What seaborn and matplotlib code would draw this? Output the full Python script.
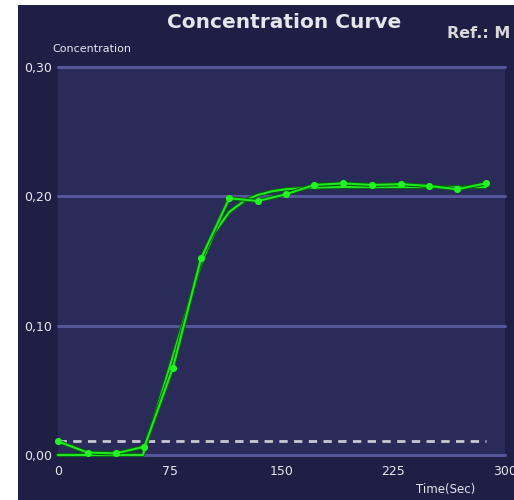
import matplotlib
matplotlib.use("Agg")
import matplotlib.pyplot as plt
import matplotlib.patheffects as pe
from matplotlib.patches import Rectangle
import seaborn as sns
import pandas as pd

# ---- data ----
meas_time = [0, 20, 39, 58, 77, 96, 115, 134, 153, 172, 191, 211, 230, 249, 268, 287]
meas_conc = [0.0105, 0.0018, 0.0013, 0.0064, 0.067, 0.152, 0.1985, 0.1964, 0.2016,
             0.2088, 0.2100, 0.2088, 0.2094, 0.2080, 0.2055, 0.2100]

fit_time = [0, 57, 66, 76, 86, 96, 105, 115, 125, 134, 144, 153, 172, 191, 211, 230, 249, 268, 287]
fit_conc = [0.0, 0.0, 0.034, 0.072, 0.110, 0.148, 0.172, 0.188, 0.1965, 0.2010,
            0.2040, 0.2055, 0.2068, 0.2072, 0.2072, 0.2072, 0.2072, 0.2072, 0.2072]

threshold = 0.0108
threshold_time = [0, 287]

x_ticks = [0, 75, 150, 225, 300]
x_tick_labels = ["0", "75", "150", "225", "300"]
y_ticks = [0.0, 0.10, 0.20, 0.30]
y_tick_labels = ["0,00", "0,10", "0,20", "0,30"]

title = "Concentration Curve"
ref_text = "Ref.: M"
y_label = "Concentration"
x_label = "Time(Sec)"

# ---- style ----
W, H = 514, 500
outer_bg = "#1f1f46"
plot_bg = "#2b2b5a"
grid_col = "#55559a"
text_col = "#e6e6ee"
green = "#1ee81e"

sns.set_theme(style="white")
plt.rcParams["font.family"] = ["DejaVu Sans"]

fig = plt.figure(figsize=(W / 100, H / 100), dpi=100)
fig.patch.set_facecolor("white")
fig.patches.append(Rectangle((18 / W, 0), 1 - 18 / W, 1 - 5 / H,
                             transform=fig.transFigure, facecolor=outer_bg,
                             edgecolor="none", zorder=-10))

left, right, top, bottom = 58, 505, 67, 455
ax = fig.add_axes([left / W, 1 - bottom / H, (right - left) / W, (bottom - top) / H])
ax.set_facecolor(plot_bg)
for s in ax.spines.values():
    s.set_visible(False)

ax.set_xlim(0, 300)
ax.set_ylim(0, 0.30)

# gridlines
for yv in y_ticks:
    ax.axhline(yv, color=grid_col, lw=2.2, zorder=1, clip_on=False)

# threshold dashed line
ax.plot(threshold_time, [threshold, threshold], color="#c8c8d2", lw=2,
        dashes=(3, 2.3), zorder=2)

stroke = [pe.Stroke(linewidth=3.0, foreground="#0b5c14"), pe.Normal()]

fit_df = pd.DataFrame({"t": fit_time, "c": fit_conc})
meas_df = pd.DataFrame({"t": meas_time, "c": meas_conc})

sns.lineplot(data=fit_df, x="t", y="c", ax=ax, color=green, lw=1.5,
             zorder=3, path_effects=stroke, clip_on=False)
sns.lineplot(data=meas_df, x="t", y="c", ax=ax, color=green, lw=1.5,
             zorder=4, path_effects=stroke, clip_on=False)
sns.scatterplot(data=meas_df, x="t", y="c", ax=ax, color="#22f522", s=26,
                linewidth=0, zorder=5, clip_on=False)

ax.set_xticks(x_ticks)
ax.set_xticklabels(x_tick_labels)
ax.set_yticks(y_ticks)
ax.set_yticklabels(y_tick_labels)
ax.tick_params(axis="both", length=0, colors=text_col, labelsize=9)
ax.tick_params(axis="x", pad=7)
ax.tick_params(axis="y", pad=4)
ax.set_xlabel("")
ax.set_ylabel("")

fig.text(284 / W, 1 - 23 / H, title, ha="center", va="center",
         color=text_col, fontsize=14.5, fontweight="bold")
fig.text(447 / W, 1 - 33 / H, ref_text, ha="left", va="center",
         color="#d8d8d8", fontsize=11.5, fontweight="bold")
fig.text(52 / W, 1 - 49 / H, y_label, ha="left", va="center",
         color=text_col, fontsize=8)
fig.text(446 / W, 1 - 490 / H, x_label, ha="center", va="center",
         color=text_col, fontsize=8.5)

fig.savefig("out.png", dpi=100, facecolor=fig.get_facecolor())
